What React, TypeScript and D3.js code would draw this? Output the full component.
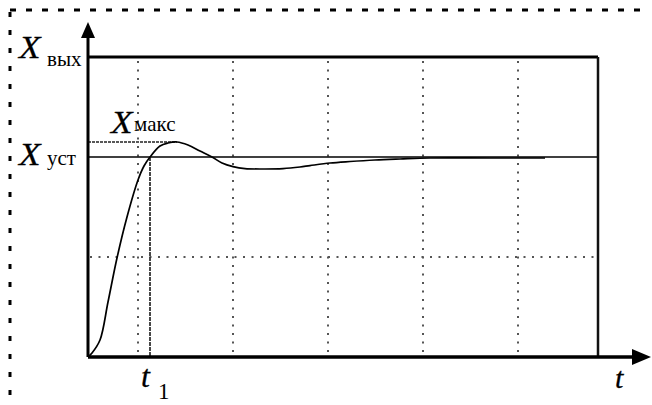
import React from "react";
import * as d3 from "d3";

// Transient response curve: time (arbitrary units) and output relative to steady state (Xуст = 1)
const timeValues = [0, 0.8, 2.4, 4, 5.8, 7.8, 10, 11.2, 12.4, 14.4, 16, 17.8, 20, 22.4, 24.8, 26.8, 29, 31.4, 35.4, 39, 42.4, 44.4, 48.4, 52.4, 57.4, 62.4, 68.4, 80.4, 91.4];
const outputValues = [0, 0.02, 0.085, 0.275, 0.495, 0.7, 0.885, 0.955, 1.0, 1.055, 1.07, 1.075, 1.06, 1.03, 1.0, 0.97, 0.952, 0.942, 0.94, 0.942, 0.95, 0.957, 0.97, 0.9775, 0.985, 0.99, 0.995, 0.995, 0.995];

const gridTimes = [10, 29, 48, 67, 86];
const gridOutputs = [0.5];
const steadyValue = 1.0;
const maxValue = 1.075;
const peakTime = 17.8;
const t1Value = 12.4;
const timeDomain = [0, 102];
const outputDomain = [0, 1.5];

const serif = '"Liberation Serif"';

export default function App() {
  const x = d3.scaleLinear().domain(timeDomain).range([88, 598]);
  const y = d3.scaleLinear().domain(outputDomain).range([357, 57]);
  const pts = timeValues.map((t, i) => [t, outputValues[i]] as [number, number]);
  const line = d3
    .line<[number, number]>()
    .x((d) => x(d[0]))
    .y((d) => y(d[1]))
    .curve(d3.curveCatmullRom.alpha(0.5));

  const x0 = x(0);
  const x1 = x(timeDomain[1]);
  const yB = y(0);
  const yT = y(outputDomain[1]);

  const it = { fontFamily: serif, fontStyle: "italic" } as React.CSSProperties;
  const up = { fontFamily: serif } as React.CSSProperties;

  const bigX = (px: number, py: number) => (
    <text
      transform={`translate(${px},${py}) scale(1.1,1)`}
      fontSize={32}
      style={it}
      stroke="#000"
      strokeWidth={0.3}
    >
      X
    </text>
  );

  return (
    <svg
      width={652}
      height={405}
      style={{ position: "absolute", left: 0, top: 0, background: "#fff" }}
    >
      <rect width={652} height={405} fill="#fff" />
      {/* dashed outer border */}
      <line x1={10} y1={10} x2={650} y2={10} stroke="#000" strokeWidth={3} strokeDasharray="6,10" />
      <line x1={10} y1={12} x2={10} y2={405} stroke="#000" strokeWidth={3} strokeDasharray="5,13" />

      {/* dotted grid */}
      {gridTimes.map((t) => (
        <line key={"gx" + t} x1={x(t)} x2={x(t)} y1={yT + 4} y2={yB} stroke="#555" strokeWidth={2} strokeDasharray="2,6.5" />
      ))}
      {gridOutputs.map((v) => (
        <line key={"gy" + v} x1={x0 + 2} x2={x1} y1={y(v)} y2={y(v)} stroke="#555" strokeWidth={2} strokeDasharray="2,6.5" />
      ))}

      {/* steady-state line */}
      <line x1={x0} x2={x1} y1={y(steadyValue)} y2={y(steadyValue)} stroke="#000" strokeWidth={1.6} />
      {/* maximum dashed line */}
      <line x1={x0} x2={x(peakTime)} y1={y(maxValue)} y2={y(maxValue)} stroke="#222" strokeWidth={1.6} strokeDasharray="3,1" />
      {/* t1 vertical */}
      <line x1={x(t1Value)} x2={x(t1Value)} y1={y(steadyValue)} y2={yB} stroke="#333" strokeWidth={1.8} strokeDasharray="4,1" />

      {/* curve */}
      <path d={line(pts) || ""} fill="none" stroke="#000" strokeWidth={1.7} />

      {/* frame */}
      <line x1={x0} x2={x1} y1={yT} y2={yT} stroke="#000" strokeWidth={3} />
      <line x1={x1} x2={x1} y1={yT} y2={yB} stroke="#111" strokeWidth={2.5} />
      {/* axes */}
      <line x1={x0} x2={x0} y1={yB} y2={34} stroke="#000" strokeWidth={3} />
      <line x1={x0} x2={636} y1={yB} y2={yB} stroke="#000" strokeWidth={3.5} />
      <polygon points={`${x0},22 ${x0 - 7},38 ${x0 + 7},38`} fill="#000" />
      <polygon points={`651,${yB} 632,${yB - 8} 632,${yB + 8}`} fill="#000" />

      {/* labels */}
      {bigX(19, 58)}
      <text x={47} y={66} fontSize={21} style={up}>вых</text>

      {bigX(19, 165)}
      <text x={47} y={165} fontSize={21} style={up}>уст</text>

      {bigX(111, 133)}
      <text x={134} y={131} fontSize={21} style={up}>макс</text>

      <text x={141} y={387} fontSize={32} style={it} stroke="#000" strokeWidth={0.3}>t</text>
      <text x={158} y={399} fontSize={23} style={up}>1</text>

      <text x={615} y={388} fontSize={30} style={it} stroke="#000" strokeWidth={0.3}>t</text>
    </svg>
  );
}
